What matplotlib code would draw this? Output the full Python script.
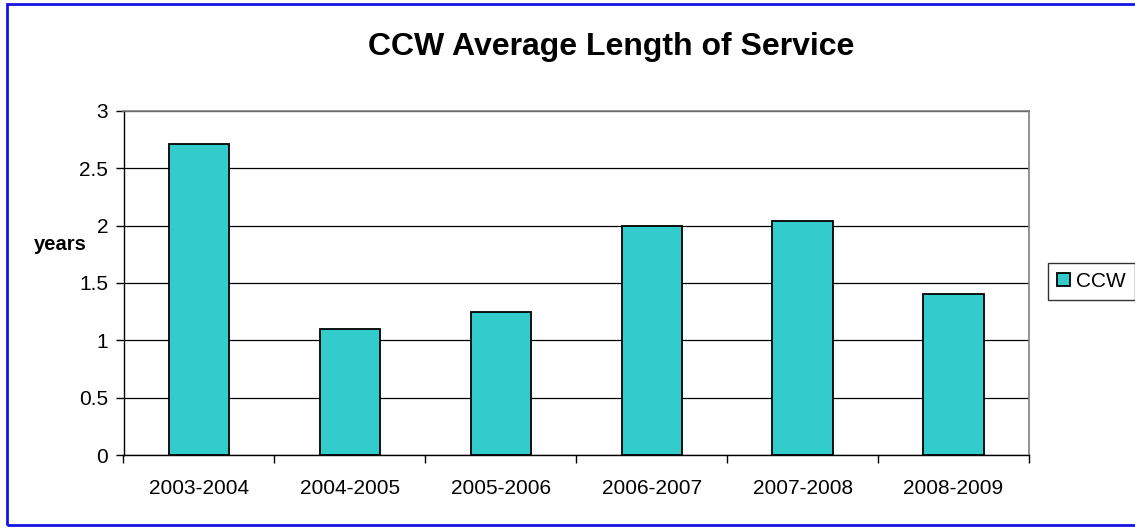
import matplotlib
matplotlib.use("Agg")
import matplotlib.pyplot as plt
from matplotlib.patches import Rectangle
import numpy as np

plt.rcParams['font.family'] = ['Liberation Sans', 'DejaVu Sans']

periods = ["2003-2004", "2004-2005", "2005-2006", "2006-2007", "2007-2008", "2008-2009"]
ccw_years = [2.71, 1.10, 1.25, 2.00, 2.04, 1.40]
y_ticks = [0, 0.5, 1, 1.5, 2, 2.5, 3]
y_tick_labels = ["0", "0.5", "1", "1.5", "2", "2.5", "3"]

W, H = 1135, 529
fig = plt.figure(figsize=(W / 100, H / 100), dpi=100)
fig.patch.set_facecolor("white")

# outer chart frame
fig.patches.append(Rectangle((7 / W, 4 / H), (W + 10 - 7) / W, (525 - 4) / H,
                             transform=fig.transFigure, fill=False,
                             edgecolor="#1414E6", linewidth=2, zorder=0))

ax = fig.add_axes([123.5 / W, 1 - 455.3 / H, (1029 - 123.5) / W, (455.3 - 110.7) / H])
x = np.arange(len(periods))
bars = ax.bar(x, ccw_years, width=0.4, color="#33CCCC", edgecolor="black",
              linewidth=1.3, zorder=3, label="CCW")

ax.set_xlim(-0.5, len(periods) - 0.5)
ax.set_ylim(0, 3)
ax.set_yticks(y_ticks)
ax.set_yticklabels(y_tick_labels)
ax.set_xticks(x)
ax.set_xticklabels(periods)
ax.set_xticks(np.arange(-0.5, len(periods), 1.0), minor=True)
ax.tick_params(axis="x", which="major", length=0, pad=17, labelsize=15)
ax.tick_params(axis="x", which="minor", length=6, width=1, color="black", direction="out")
ax.tick_params(axis="y", length=6, width=1, color="black", direction="out", pad=5, labelsize=15)

ax.yaxis.grid(True, color="black", linewidth=0.9, zorder=1)
ax.set_axisbelow(True)
for side in ("top", "right"):
    ax.spines[side].set_color("#808080")
    ax.spines[side].set_linewidth(1.2)
for side in ("left", "bottom"):
    ax.spines[side].set_color("black")
    ax.spines[side].set_linewidth(1)

fig.text(611 / W, 1 - 55 / H, "CCW Average Length of Service", ha="center",
         va="baseline", fontsize=23, fontweight="bold")
fig.text(60 / W, 1 - 245 / H, "years", ha="center", va="center",
         fontsize=14.5, fontweight="bold")

leg = fig.legend(handles=[bars], labels=["CCW"], loc="center left",
                 bbox_to_anchor=(1048 / W, 1 - 281.5 / H), frameon=True,
                 fancybox=False, edgecolor="black", fontsize=15,
                 handlelength=0.6, handleheight=0.6, handletextpad=0.3,
                 borderpad=0.45, borderaxespad=0)
leg.get_frame().set_linewidth(1)

fig.savefig("out.png", dpi=100, facecolor="white")
